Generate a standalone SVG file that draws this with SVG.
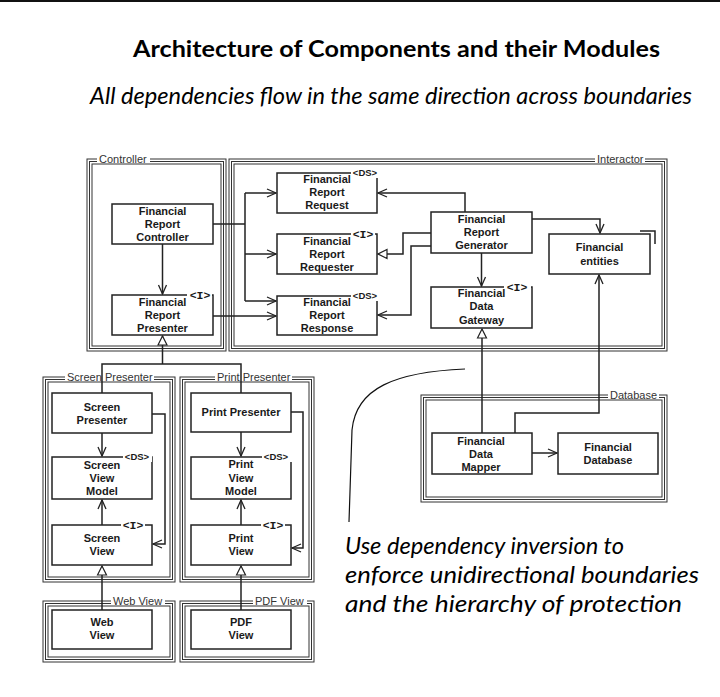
<svg xmlns="http://www.w3.org/2000/svg" width="720" height="697" viewBox="0 0 720 697">
<style>
.fr rect{fill:none;stroke:#333;stroke-width:1}
.fr rect.lb{fill:#fff;stroke:none}
.fl{font-family:"Liberation Sans",Arial,sans-serif;font-size:11px;fill:#333}
.lb{fill:#fff;stroke:none}
.box{fill:#fff;stroke:#222;stroke-width:1.5}
.t{font-family:"Liberation Sans",Arial,sans-serif;font-size:11px;font-weight:bold;fill:#1a1a1a;text-anchor:middle}
.ds{font-family:"Liberation Sans",Arial,sans-serif;font-size:9.5px;font-weight:bold;fill:#1a1a1a;text-anchor:middle}
.ii{font-family:"Liberation Mono","Courier New",monospace;font-size:11.5px;font-weight:bold;fill:#1a1a1a;text-anchor:middle}
.c{fill:none;stroke:#222;stroke-width:1.5}
.big{font-family:Lato,"Open Sans","Liberation Sans",sans-serif;fill:#000}
</style>
<defs>
<marker id="open" markerUnits="userSpaceOnUse" markerWidth="12" markerHeight="12" viewBox="0 0 12 12" refX="11" refY="6" orient="auto"><path d="M2,2 L11,6 L2,10" fill="none" stroke="#222" stroke-width="1.3"/></marker>
<marker id="tri" markerUnits="userSpaceOnUse" markerWidth="12" markerHeight="12" viewBox="0 0 12 12" refX="11" refY="6" orient="auto"><path d="M2,1.5 L11,6 L2,10.5 Z" fill="#fff" stroke="#222" stroke-width="1.2"/></marker>
</defs>
<rect x="0" y="0" width="720" height="720" fill="#fff"/>
<rect x="0" y="0" width="720" height="2" fill="#111"/>
<text class="big" x="133" y="57" font-size="23" font-weight="bold" textLength="527" lengthAdjust="spacingAndGlyphs">Architecture of Components and their Modules</text>
<text class="big" x="90" y="104" font-size="23" font-style="italic" textLength="602" lengthAdjust="spacingAndGlyphs">All dependencies flow in the same direction across boundaries</text>

<g id="frames">
<g id="controller-frame" class="fr"><rect x="87" y="159" width="139" height="192"/><rect x="89.5" y="161.5" width="134" height="187"/><rect x="92" y="164" width="129" height="182"/><rect class="lb" x="97" y="154" width="53" height="9"/><text class="fl" x="99" y="163">Controller</text></g>
<g id="interactor-frame" class="fr"><rect x="229" y="159" width="438" height="192"/><rect x="231.5" y="161.5" width="433" height="187"/><rect x="234" y="164" width="428" height="182"/><rect class="lb" x="595" y="154" width="50" height="9"/><text class="fl" x="597" y="163">Interactor</text></g>
<g id="screen-presenter-frame" class="fr"><rect x="43" y="377" width="132" height="205"/><rect x="45.5" y="379.5" width="127" height="200"/><rect x="48" y="382" width="122" height="195"/><rect class="lb" x="65" y="372" width="89" height="9"/><text class="fl" x="67" y="381">Screen Presenter</text></g>
<g id="print-presenter-frame" class="fr"><rect x="180" y="377" width="134" height="205"/><rect x="182.5" y="379.5" width="129" height="200"/><rect x="185" y="382" width="124" height="195"/><rect class="lb" x="215" y="372" width="77" height="9"/><text class="fl" x="217" y="381">Print Presenter</text></g>
<g id="web-view-frame" class="fr"><rect x="43" y="601" width="132" height="61"/><rect x="45.5" y="603.5" width="127" height="56"/><rect x="48" y="606" width="122" height="51"/><rect class="lb" x="111" y="596" width="54" height="9"/><text class="fl" x="113" y="605">Web View</text></g>
<g id="pdf-view-frame" class="fr"><rect x="180" y="601" width="134" height="61"/><rect x="182.5" y="603.5" width="129" height="56"/><rect x="185" y="606" width="124" height="51"/><rect class="lb" x="253" y="596" width="54" height="9"/><text class="fl" x="255" y="605">PDF View</text></g>
<g id="database-frame" class="fr"><rect x="421" y="395" width="246" height="107"/><rect x="423.5" y="397.5" width="241" height="102"/><rect x="426" y="400" width="236" height="97"/><rect class="lb" x="608" y="390" width="51" height="9"/><text class="fl" x="610" y="399">Database</text></g>
</g>

<g id="nodes">
<g id="fr-controller"><rect class="box" x="112" y="204" width="101" height="40"/><text class="t" x="162.5" y="215">Financial</text><text class="t" x="162.5" y="228">Report</text><text class="t" x="162.5" y="241">Controller</text></g>
<g id="fr-presenter"><rect class="box" x="112" y="295" width="101" height="40"/><rect class="lb" x="187" y="290" width="25" height="9"/><text class="ii" x="200" y="299">&lt;I&gt;</text><text class="t" x="162.5" y="306">Financial</text><text class="t" x="162.5" y="319">Report</text><text class="t" x="162.5" y="332">Presenter</text></g>
<g id="fr-request"><rect class="box" x="277" y="173" width="100" height="40"/><rect class="lb" x="351" y="167" width="28" height="11"/><text class="ds" x="365" y="176">&lt;DS&gt;</text><text class="t" x="327" y="183">Financial</text><text class="t" x="327" y="196">Report</text><text class="t" x="327" y="209">Request</text></g>
<g id="fr-requester"><rect class="box" x="277" y="234" width="100" height="40"/><rect class="lb" x="351" y="229" width="24" height="9"/><text class="ii" x="363" y="238">&lt;I&gt;</text><text class="t" x="327" y="245">Financial</text><text class="t" x="327" y="258">Report</text><text class="t" x="327" y="271">Requester</text></g>
<g id="fr-response"><rect class="box" x="277" y="296" width="100" height="39"/><rect class="lb" x="351" y="290" width="28" height="11"/><text class="ds" x="365" y="299">&lt;DS&gt;</text><text class="t" x="327" y="306">Financial</text><text class="t" x="327" y="319">Report</text><text class="t" x="327" y="332">Response</text></g>
<g id="fr-generator"><rect class="box" x="431" y="212" width="101" height="41"/><text class="t" x="481.5" y="223">Financial</text><text class="t" x="481.5" y="236">Report</text><text class="t" x="481.5" y="249">Generator</text></g>
<g id="fin-entities"><rect class="box" x="549" y="234" width="101" height="40"/><path class="c" d="M640,231 H655 V244"/><text class="t" x="599.5" y="251">Financial</text><text class="t" x="599.5" y="265">entities</text></g>
<g id="fd-gateway"><rect class="box" x="431" y="287" width="101" height="41"/><rect class="lb" x="504" y="282" width="27" height="9"/><text class="ii" x="517" y="291">&lt;I&gt;</text><text class="t" x="481.5" y="297">Financial</text><text class="t" x="481.5" y="310">Data</text><text class="t" x="481.5" y="324">Gateway</text></g>
<g id="fd-mapper"><rect class="box" x="432" y="433" width="100" height="41"/><text class="t" x="481" y="445">Financial</text><text class="t" x="481" y="458">Data</text><text class="t" x="481" y="471">Mapper</text></g>
<g id="fin-database"><rect class="box" x="558" y="433" width="100" height="41"/><text class="t" x="608" y="451">Financial</text><text class="t" x="608" y="464">Database</text></g>
<g id="screen-presenter"><rect class="box" x="52" y="393" width="100" height="40"/><text class="t" x="102" y="411">Screen</text><text class="t" x="102" y="424">Presenter</text></g>
<g id="screen-view-model"><rect class="box" x="52" y="457" width="100" height="42"/><rect class="lb" x="123" y="451" width="29" height="11"/><text class="ds" x="137" y="460">&lt;DS&gt;</text><text class="t" x="102" y="469">Screen</text><text class="t" x="102" y="482">View</text><text class="t" x="102" y="495">Model</text></g>
<g id="screen-view"><rect class="box" x="52" y="525" width="100" height="40"/><rect class="lb" x="121" y="520" width="24" height="9"/><text class="ii" x="133" y="529">&lt;I&gt;</text><text class="t" x="102" y="542">Screen</text><text class="t" x="102" y="555">View</text></g>
<g id="print-presenter"><rect class="box" x="191" y="393" width="100" height="39"/><text class="t" x="241" y="416">Print Presenter</text></g>
<g id="print-view-model"><rect class="box" x="191" y="457" width="100" height="42"/><rect class="lb" x="262" y="451" width="30" height="11"/><text class="ds" x="276" y="460">&lt;DS&gt;</text><text class="t" x="241" y="468">Print</text><text class="t" x="241" y="482">View</text><text class="t" x="241" y="495">Model</text></g>
<g id="print-view"><rect class="box" x="191" y="525" width="100" height="40"/><rect class="lb" x="261" y="520" width="24" height="9"/><text class="ii" x="273" y="529">&lt;I&gt;</text><text class="t" x="241" y="542">Print</text><text class="t" x="241" y="555">View</text></g>
<g id="web-view"><rect class="box" x="52" y="610" width="100" height="39"/><text class="t" x="102" y="626">Web</text><text class="t" x="102" y="639">View</text></g>
<g id="pdf-view"><rect class="box" x="191" y="610" width="100" height="39"/><text class="t" x="241" y="626">PDF</text><text class="t" x="241" y="639">View</text></g>
</g>

<g id="connectors">
<path class="c" d="M162.5,244 V294" marker-end="url(#open)"/>
<path class="c" d="M213,224 H245 M245,193 V301"/>
<path class="c" d="M245,193 H276" marker-end="url(#open)"/>
<path class="c" d="M245,254 H276" marker-end="url(#open)"/>
<path class="c" d="M245,301 H276" marker-end="url(#open)"/>
<path class="c" d="M213,316 H276" marker-end="url(#open)"/>
<path class="c" d="M465,212 V193 H378" marker-end="url(#open)"/>
<path class="c" d="M431,233 H403 V254 H378" marker-end="url(#tri)"/>
<path class="c" d="M431,246 H411 V315 H378" marker-end="url(#open)"/>
<path class="c" d="M532,219 H600 V233" marker-end="url(#open)"/>
<path class="c" d="M481.5,253 V286" marker-end="url(#open)"/>
<path class="c" d="M482,433 V329" marker-end="url(#tri)"/>
<path class="c" d="M515,433 V413 H599 V275" marker-end="url(#open)"/>
<path class="c" d="M532,453 H557" marker-end="url(#open)"/>
<path class="c" d="M102,393 V364 H241 V393"/>
<path class="c" d="M162.5,364 V336" marker-end="url(#tri)"/>
<path class="c" d="M102,433 V456" marker-end="url(#open)"/>
<path class="c" d="M102,525 V500" marker-end="url(#open)"/>
<path class="c" d="M152,414 H165 V544 H153" marker-end="url(#open)"/>
<path class="c" d="M241,432 V456" marker-end="url(#open)"/>
<path class="c" d="M241,525 V500" marker-end="url(#open)"/>
<path class="c" d="M291,412 H303 V548 H292" marker-end="url(#open)"/>
<path class="c" d="M102,610 V566" marker-end="url(#tri)"/>
<path class="c" d="M241,610 V566" marker-end="url(#tri)"/>
</g>

<path d="M465,369 C395,372 356,388 352,430 L349,522" fill="none" stroke="#111" stroke-width="1.2"/>
<text class="big" x="345" y="554" font-size="23" font-style="italic" textLength="279" lengthAdjust="spacingAndGlyphs">Use dependency inversion to</text>
<text class="big" x="345" y="583" font-size="23" font-style="italic" textLength="354" lengthAdjust="spacingAndGlyphs">enforce unidirectional boundaries</text>
<text class="big" x="345" y="612" font-size="23" font-style="italic" textLength="337" lengthAdjust="spacingAndGlyphs">and the hierarchy of protection</text>
</svg>
